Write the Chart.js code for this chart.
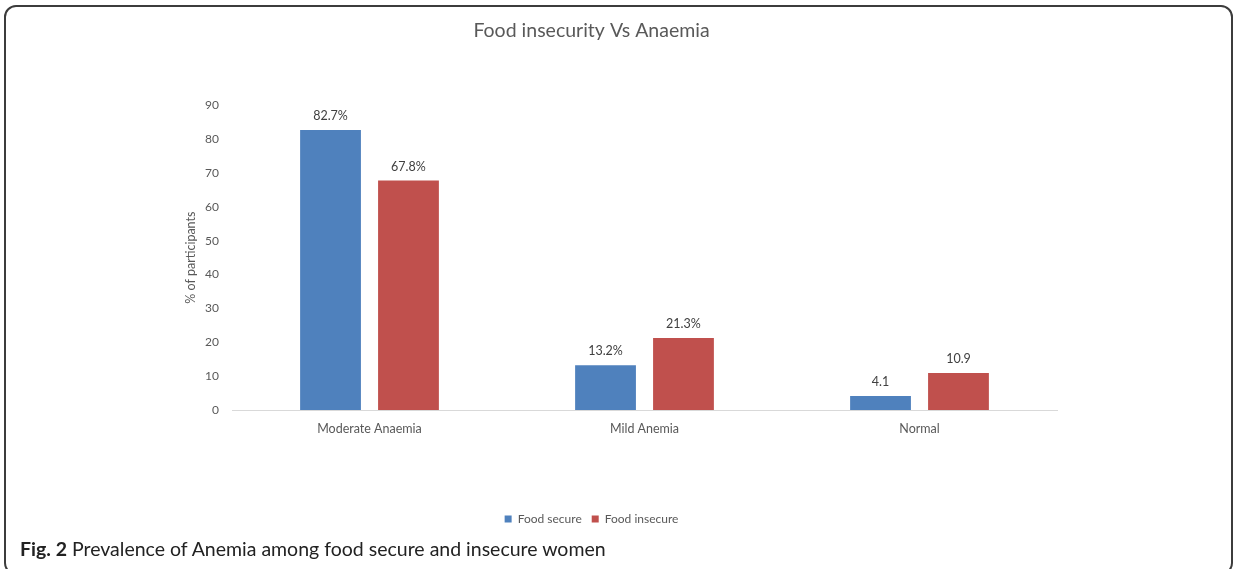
<!DOCTYPE html>
<html>
<head>
<meta charset="utf-8">
<script src="https://cdn.jsdelivr.net/npm/chart.js@4"></script>
<style>
  html, body { margin: 0; padding: 0; background: #fff; }
  #wrap { position: relative; width: 1234px; height: 569px; overflow: hidden; }
  #frame { position: absolute; left: 4px; top: 5px; width: 1229px; height: 570px;
           border: 2px solid #3c3c3c; border-radius: 12px; box-sizing: border-box; }
  #chart { position: absolute; left: 0; top: 0; width: 1234px; height: 569px; }
  #caption { position: absolute; left: 20px; top: 537px; font-family: Lato, sans-serif;
             font-size: 19.5px; color: #222; white-space: nowrap; }
  #caption b { font-weight: 700; }
</style>
</head>
<body>
<div id="wrap">
  <div id="frame"></div>
  <div id="chart"><canvas id="foodChart" width="1234" height="569"></canvas></div>
  <div id="caption"><b>Fig. 2</b> Prevalence of Anemia among food secure and insecure women</div>
</div>
<script>
// values
const categories = ["Moderate Anaemia", "Mild Anemia", "Normal"];
const foodSecure = [82.7, 13.2, 4.1];
const foodInsecure = [67.8, 21.3, 10.9];
const secureLabels = ["82.7%", "13.2%", "4.1"];
const insecureLabels = ["67.8%", "21.3%", "10.9"];
const yTicks = [0, 10, 20, 30, 40, 50, 60, 70, 80, 90];

// labels above bars (no datalabels plugin offline)
const barLabels = {
    id: "barLabels",
    afterDatasetsDraw(chart) {
        const ctx = chart.ctx;
        const texts = [secureLabels, insecureLabels];
        ctx.save();
        ctx.font = "12.5px Lato, sans-serif";
        ctx.fillStyle = "#404040";
        ctx.textAlign = "center";
        ctx.textBaseline = "middle";
        chart.data.datasets.forEach((ds, i) => {
            chart.getDatasetMeta(i).data.forEach((bar, j) => {
                ctx.fillText(texts[i][j], bar.x, bar.y - 14);
            });
        });
        ctx.restore();
    }
};

new Chart(document.getElementById("foodChart"), {
    type: "bar",
    data: {
        labels: categories,
        datasets: [
            { label: "Food secure", data: foodSecure, backgroundColor: "#4F81BD" },
            { label: "Food insecure", data: foodInsecure, backgroundColor: "#C0504D" }
        ]
    },
    options: {
        responsive: false,
        animation: false,
        layout: { padding: { left: 126, right: 177, top: 19, bottom: 34 } },
        datasets: { bar: { categoryPercentage: 0.567, barPercentage: 0.78 } },
        plugins: {
            title: {
                display: true,
                text: "Food insecurity Vs Anaemia",
                color: "#595959",
                font: { family: "Lato, sans-serif", size: 19.5, weight: "normal" },
                padding: { top: 0, bottom: 63 }
            },
            legend: {
                position: "bottom",
                labels: {
                    color: "#595959",
                    font: { family: "Lato, sans-serif", size: 12 },
                    boxWidth: 7, boxHeight: 7, padding: 10
                }
            },
            tooltip: { enabled: false }
        },
        scales: {
            x: {
                grid: { display: false, drawTicks: false },
                border: { display: true, color: "#d9d9d9", width: 1 },
                ticks: { color: "#595959", font: { family: "Lato, sans-serif", size: 12.5 }, padding: 11 },
                afterFit(scale) { scale.height = 93; }
            },
            y: {
                min: 0, max: 90,
                afterBuildTicks(scale) { scale.ticks = yTicks.map(v => ({ value: v })); },
                grid: { display: false, drawTicks: false },
                border: { display: false },
                ticks: { color: "#595959", font: { family: "Lato, sans-serif", size: 12 }, padding: 13 },
                title: {
                    display: true, text: "% of participants", color: "#595959",
                    font: { family: "Lato, sans-serif", size: 12.5 }, padding: { top: 57, bottom: 0 }
                },
                afterFit(scale) { scale.width = 106; }
            }
        }
    },
    plugins: [barLabels]
});
</script>
</body>
</html>
